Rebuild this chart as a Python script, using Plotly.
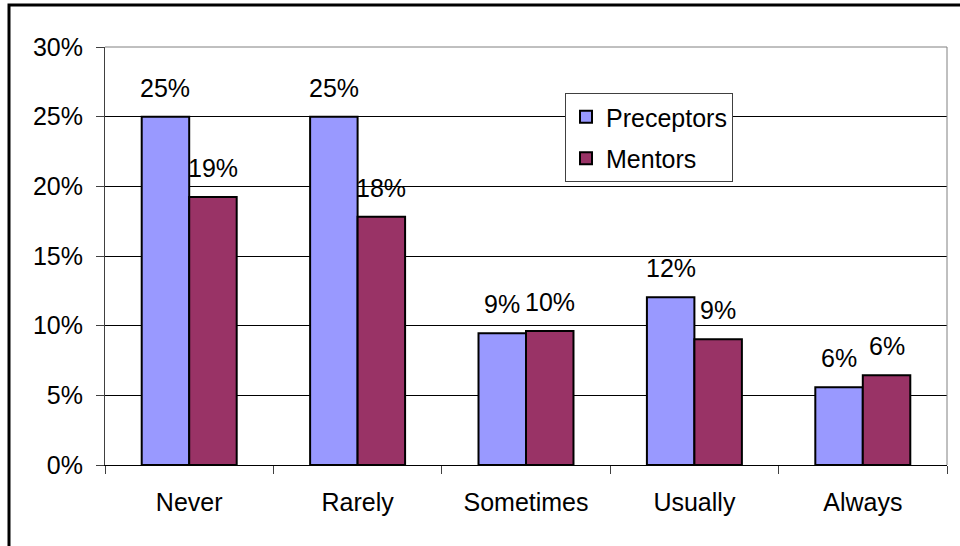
import plotly.graph_objects as go

categories = ["Never", "Rarely", "Sometimes", "Usually", "Always"]
preceptors = [0.25, 0.25, 0.0945, 0.1204, 0.0558]
mentors = [0.1924, 0.1782, 0.0962, 0.0902, 0.0644]
series_names = ["Preceptors", "Mentors"]
series_colors = ["#9999FF", "#993366"]
y_ticks = [0, 0.05, 0.10, 0.15, 0.20, 0.25, 0.30]

FONT = "Liberation Sans, Arial, sans-serif"
FS = 25

W, H = 960, 546
ML, MR, MT, MB = 105, 13, 47, 81
BARGAP = 0.436

fig = go.Figure()
for i, (name, vals, col) in enumerate(zip(series_names, [preceptors, mentors], series_colors)):
    fig.add_trace(go.Bar(
        name=name, x=categories, y=vals,
        marker=dict(color=col, line=dict(color="black", width=2)),
        legendgroup=name,
    ))

plot_w = W - ML - MR
bar_w = plot_w / len(categories) * (1 - BARGAP) / 2
annotations = []
for j, vals in enumerate([preceptors, mentors]):
    shift = (j - 0.5) * bar_w
    for c, v in zip(categories, vals):
        annotations.append(dict(
            x=c, y=v, xref="x", yref="y", text=f"{v:.0%}", showarrow=False,
            xshift=shift, yshift=13, yanchor="bottom", xanchor="center",
            font=dict(family=FONT, size=FS, color="black"),
        ))

def px_x(p):
    return (p - ML) / plot_w

def px_y(p):
    return (H - MB - p) / (H - MT - MB)

shapes = [
    # outer chart frame (clipped by the page edge)
    dict(type="rect", xref="paper", yref="paper",
         x0=px_x(9), x1=px_x(990), y0=px_y(580), y1=px_y(5),
         line=dict(color="black", width=3), fillcolor="rgba(0,0,0,0)", layer="above"),
    # plot area border top/right
    dict(type="path", xref="paper", yref="paper",
         path="M 0,1 L 1,1 L 1,0", line=dict(color="#808080", width=1), layer="above"),
]

fig.update_layout(
    width=W, height=H,
    margin=dict(l=ML, r=MR, t=MT, b=MB, pad=0),
    paper_bgcolor="white", plot_bgcolor="white",
    font=dict(family=FONT, size=FS, color="black"),
    barmode="group", bargap=BARGAP, bargroupgap=0,
    showlegend=True,
    legend=dict(
        x=px_x(565), y=px_y(93), xanchor="left", yanchor="top",
        bgcolor="white", bordercolor="#404040", borderwidth=1,
        font=dict(family=FONT, size=FS, color="black"),
        traceorder="grouped", tracegroupgap=6,
        itemclick=False,
    ),
    xaxis=dict(
        type="category", range=[-0.5, 4.5],
        showline=True, linecolor="black", linewidth=1,
        ticks="outside", tickson="boundaries", ticklen=8, tickcolor="#404040",
        showgrid=False, ticklabelstandoff=15,
        tickfont=dict(family=FONT, size=FS, color="black"),
    ),
    yaxis=dict(
        range=[0, 0.30], tickvals=y_ticks, tickformat=".0%",
        showgrid=True, gridcolor="black", gridwidth=1,
        showline=True, linecolor="#404040", linewidth=1,
        ticks="outside", ticklen=8, tickcolor="#404040",
        zeroline=False, ticklabelstandoff=8,
        tickfont=dict(family=FONT, size=FS, color="black"),
    ),
    annotations=annotations,
    shapes=shapes,
)

fig.write_html(
    "out.html",
    config={"displayModeBar": False, "staticPlot": True},
    post_script="document.body.style.margin='0';document.body.style.overflow='hidden';",
)
